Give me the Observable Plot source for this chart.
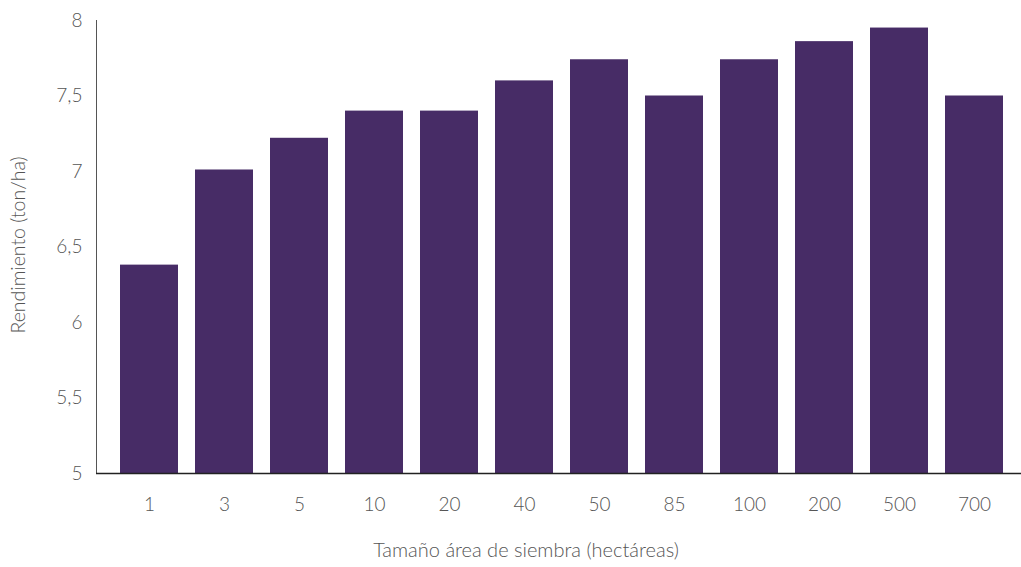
<!DOCTYPE html>
<html>
<head>
<meta charset="utf-8">
<script src="https://cdn.jsdelivr.net/npm/d3@7"></script>
<script src="https://cdn.jsdelivr.net/npm/@observablehq/plot@0.6"></script>
<style>
  html, body { margin: 0; padding: 0; background: #fff; }
  #chart svg { font-family: Lato, "Open Sans", sans-serif; font-weight: 300; }
</style>
</head>
<body>
<div id="chart"></div>
<script>
const categories = ["1", "3", "5", "10", "20", "40", "50", "85", "100", "200", "500", "700"];
const values = [6.38, 7.01, 7.22, 7.40, 7.40, 7.60, 7.74, 7.50, 7.74, 7.86, 7.95, 7.50];
const yTicks = [5, 5.5, 6, 6.5, 7, 7.5, 8];
const xTitle = "Tamaño área de siembra (hectáreas)";
const yTitle = "Rendimiento (ton/ha)";

const data = categories.map((c, i) => ({category: c, value: values[i]}));

const chart = Plot.plot({
  width: 1021,
  height: 567,
  marginTop: 20,
  marginBottom: 94,
  marginLeft: 96,
  marginRight: 0,
  style: {fontSize: "19px", color: "#555", fontFamily: "Lato, 'Open Sans', sans-serif"},
  x: {
    domain: categories,
    range: [92, 1031],
    paddingInner: 0.23,
    paddingOuter: 0.305,
    tickSize: 0,
    tickPadding: 24,
    label: null
  },
  y: {
    domain: [5, 8],
    ticks: yTicks,
    tickFormat: d => String(d).replace(".", ","),
    tickSize: 0,
    tickPadding: 14,
    line: true,
    label: null
  },
  marks: [
    Plot.barY(data, {x: "category", y1: 5, y2: "value", fill: "#472c66"}),
    Plot.ruleY([5], {stroke: "#222", strokeWidth: 1.5}),
    Plot.text([xTitle], {text: d => d, frameAnchor: "bottom", dx: -33, dy: 83, fontSize: 20, fill: "#555"}),
    Plot.text([yTitle], {text: d => d, frameAnchor: "left", textAnchor: "middle", rotate: -90, dx: -78, dy: -2, fontSize: 19.5, fill: "#555"})
  ]
});
document.getElementById("chart").appendChild(chart);
</script>
</body>
</html>
